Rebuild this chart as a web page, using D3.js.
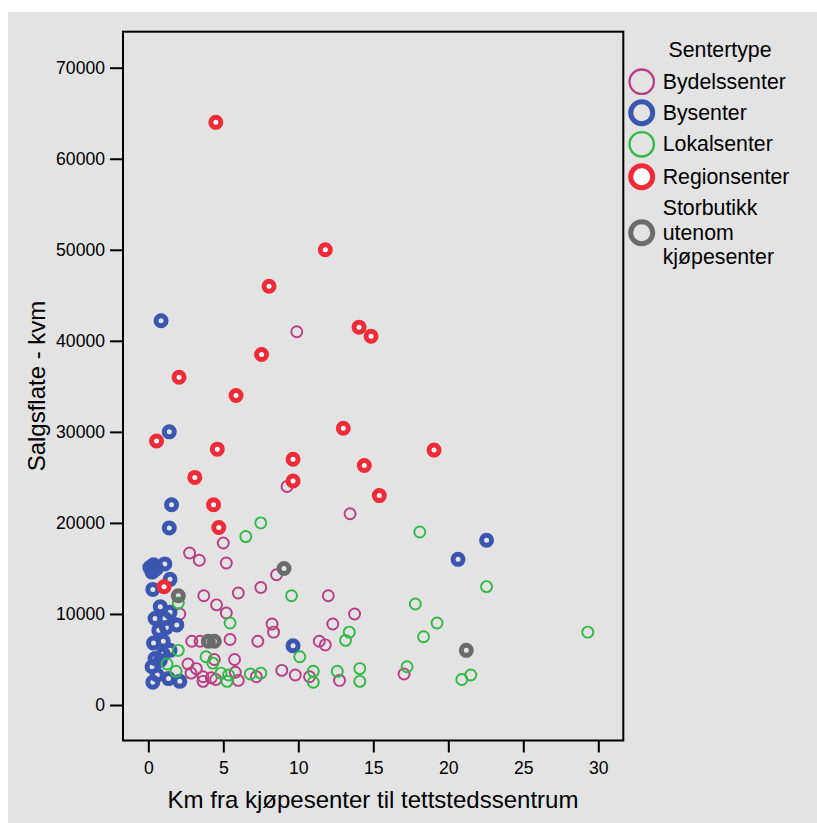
<!DOCTYPE html>
<html>
<head>
<meta charset="utf-8">
<script src="https://cdnjs.cloudflare.com/ajax/libs/d3/7.8.5/d3.min.js"></script>
<style>
 body { margin: 0; background: #fff; }
 svg { font-family: "Liberation Sans", Arial, sans-serif; }
</style>
</head>
<body>
<div id="chart"></div>
<script>
// categories and colours of the legend
const categories = ["Bydelssenter", "Bysenter", "Lokalsenter", "Regionsenter", "Storbutikk utenom kjøpesenter"];
const legendLines = [["Bydelssenter"], ["Bysenter"], ["Lokalsenter"], ["Regionsenter"], ["Storbutikk", "utenom", "kjøpesenter"]];

// [km, kvm] per centre type
const bydelssenter = [
 [9.9, 41000], [9.25, 24000], [13.45, 21000], [5.0, 17800], [2.75, 16700], [3.4, 15900],
 [5.2, 15600], [8.55, 14300], [3.7, 12000], [6.0, 12300], [7.5, 12900], [4.55, 11000],
 [5.2, 10100], [2.1, 10000], [8.25, 8900], [8.35, 8000], [2.9, 7000], [3.45, 7000],
 [5.45, 7200], [7.3, 7000], [11.4, 7000], [11.8, 6600], [12.0, 12000], [13.75, 10000],
 [12.3, 8900], [4.4, 5000], [5.75, 5000], [2.65, 4500], [3.2, 4000], [2.85, 3500],
 [8.9, 3800], [3.65, 3100], [3.65, 2600], [4.2, 3000], [5.8, 3600], [6.0, 2700],
 [9.8, 3300], [10.75, 3100], [12.75, 2700], [17.05, 3400], [4.5, 2800], [7.2, 3100]
];
const bysenter = [
 [0.85, 42200], [1.4, 30000], [1.55, 22000], [1.4, 19450], [20.65, 16000], [22.55, 18100],
 [9.65, 6500], [0.35, 15400], [1.1, 15500], [0.25, 14600], [0.55, 15000], [0.1, 15100],
 [0.4, 14800], [1.45, 13800], [0.3, 12700], [0.8, 10800], [1.45, 10200], [0.45, 9500],
 [1.1, 9500], [1.9, 8800], [0.7, 8200], [1.2, 8500], [0.35, 6800], [1.0, 7000],
 [1.45, 6000], [0.45, 5100], [0.8, 4900], [0.25, 4200], [0.3, 2500], [1.35, 2900],
 [2.1, 2600], [1.0, 5600], [0.6, 3300]
];
const lokalsenter = [
 [7.5, 20000], [6.5, 18500], [18.1, 19000], [9.55, 12000], [2.0, 11200], [5.45, 9000],
 [2.0, 6000], [3.85, 5300], [4.3, 4600], [1.25, 4500], [1.85, 3700], [4.85, 3500],
 [5.35, 3300], [5.25, 2600], [6.8, 3400], [7.5, 3500], [10.1, 5300], [11.0, 3700],
 [11.0, 2500], [17.8, 11100], [19.25, 9000], [18.35, 7500], [13.4, 8000], [13.15, 7100],
 [22.55, 13000], [12.6, 3700], [14.1, 4000], [14.1, 2600], [17.25, 4200], [20.9, 2800],
 [21.5, 3300], [29.3, 8000]
];
const regionsenter = [
 [4.5, 64000], [11.8, 50000], [8.05, 46000], [14.05, 41500], [14.85, 40500], [7.55, 38500],
 [2.05, 36000], [5.85, 34000], [13.0, 30400], [0.55, 29000], [4.6, 28100], [19.05, 28000],
 [9.65, 27000], [14.4, 26300], [3.1, 25000], [9.65, 24600], [15.4, 23000], [4.35, 22000],
 [4.7, 19500], [1.05, 13000]
];
const storbutikk = [
 [9.05, 15000], [2.0, 12000], [4.0, 7000], [4.4, 7000], [21.2, 6000]
];
const seriesData = [bydelssenter, bysenter, lokalsenter, regionsenter, storbutikk];

const xTicks = [0, 5, 10, 15, 20, 25, 30];
const yTicks = [0, 10000, 20000, 30000, 40000, 50000, 60000, 70000];

const colors = ["#b93c84", "#3b56b0", "#30b944", "#ee2b37", "#6b6b6b"];
const thick = [false, true, false, true, true];

const width = 817, height = 823;
const frame = { left: 123, top: 31.7, right: 623.3, bottom: 740.5 };

const svg = d3.select("#chart").append("svg")
 .attr("width", width).attr("height", height);

svg.append("rect")
 .attr("x", 8).attr("y", 12)
 .attr("width", width - 8).attr("height", height - 12)
 .attr("fill", "#e3e3e3");

const x = d3.scaleLinear().domain([0, 30]).range([148.3, 598.3]);
const y = d3.scaleLinear().domain([0, 70000]).range([705, 67.7]);

// axes
const xAxis = svg.append("g")
 .attr("transform", `translate(0,${frame.bottom})`)
 .call(d3.axisBottom(x).tickValues(xTicks).tickSize(12).tickPadding(9).tickFormat(d3.format("d")));
const yAxis = svg.append("g")
 .attr("transform", `translate(${frame.left},0)`)
 .call(d3.axisLeft(y).tickValues(yTicks).tickSize(13).tickPadding(5).tickFormat(d3.format("d")));

[xAxis, yAxis].forEach(a => {
 a.select(".domain").remove();
 a.selectAll(".tick line").attr("stroke", "#000").attr("stroke-width", 2);
 a.selectAll(".tick text").attr("fill", "#000").style("font-size", "17.6px")
  .style("font-family", "'Liberation Sans', Arial, sans-serif");
});

svg.append("rect")
 .attr("x", frame.left).attr("y", frame.top)
 .attr("width", frame.right - frame.left).attr("height", frame.bottom - frame.top)
 .attr("fill", "none").attr("stroke", "#000").attr("stroke-width", 2);

// axis titles
svg.append("text")
 .attr("x", 373).attr("y", 808)
 .attr("text-anchor", "middle")
 .style("font-size", "24px")
 .text("Km fra kjøpesenter til tettstedssentrum");

svg.append("text")
 .attr("transform", `translate(45,386) rotate(-90)`)
 .attr("text-anchor", "middle")
 .style("font-size", "24px")
 .text("Salgsflate - kvm");

// points
const plot = svg.append("g");
seriesData.forEach((pts, i) => {
 plot.selectAll(null)
  .data(pts)
  .enter()
  .append("circle")
  .attr("cx", d => x(d[0]))
  .attr("cy", d => y(d[1]))
  .attr("r", thick[i] ? 5 : 5.5)
  .attr("fill", i === 3 ? "#fff" : "none")
  .attr("stroke", colors[i])
  .attr("stroke-width", thick[i] ? 5 : 1.9);
});

// legend
const legend = svg.append("g");
legend.append("text")
 .attr("x", 720).attr("y", 56.7)
 .attr("text-anchor", "middle")
 .style("font-size", "21.3px")
 .text("Sentertype");

const legendY = [81.7, 112.7, 144.3, 176.7, 232.7];
const items = legend.selectAll("g.item")
 .data(categories)
 .enter()
 .append("g")
 .attr("class", "item")
 .attr("transform", (d, i) => `translate(641.7,${legendY[i]})`);

items.append("circle")
 .attr("r", (d, i) => thick[i] ? 11 : 12.2)
 .attr("fill", (d, i) => i === 3 ? "#fff" : "none")
 .attr("stroke", (d, i) => colors[i])
 .attr("stroke-width", (d, i) => thick[i] ? 5 : 2.3);

items.append("text")
 .attr("x", 21)
 .style("font-size", "21.3px")
 .each(function (d, i) {
  const lines = legendLines[i];
  const t = d3.select(this);
  lines.forEach((line, j) => {
   t.append("tspan")
    .attr("x", 21)
    .attr("y", 6.9 + (j - (lines.length - 1) / 2) * 24.7)
    .text(line);
  });
 });
</script>
</body>
</html>
